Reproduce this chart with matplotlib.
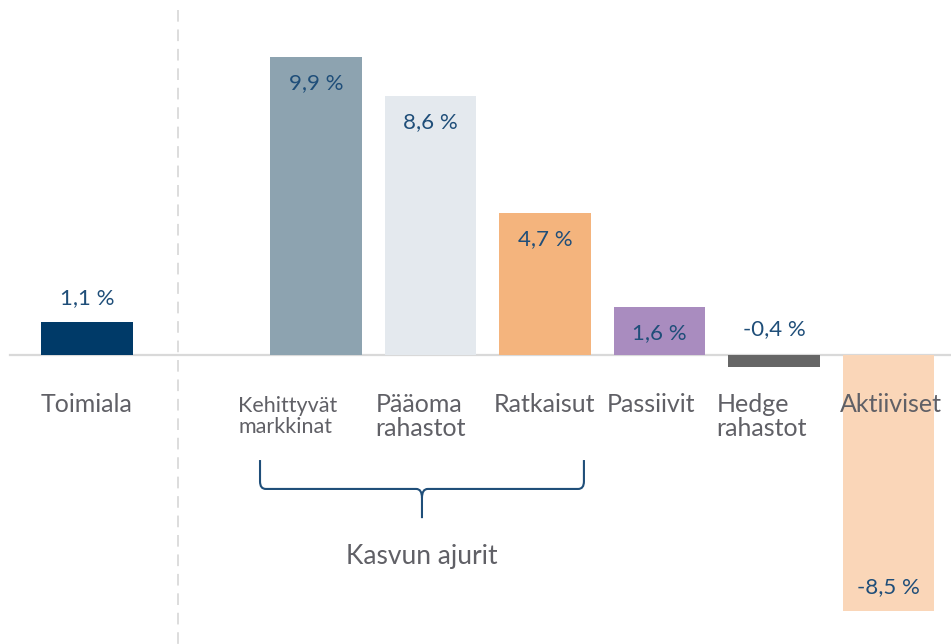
import matplotlib.pyplot as plt
from matplotlib.path import Path
from matplotlib.patches import PathPatch

plt.rcParams['font.family'] = ['Lato', 'DejaVu Sans']

categories = ['Toimiala', 'Kehittyvät\nmarkkinat', 'Pääoma\nrahastot', 'Ratkaisut',
              'Passiivit', 'Hedge\nrahastot', 'Aktiiviset']
values = [1.1, 9.9, 8.6, 4.7, 1.6, -0.4, -8.5]
value_labels = ['1,1 %', '9,9 %', '8,6 %', '4,7 %', '1,6 %', '-0,4 %', '-8,5 %']
positions = [0, 2, 3, 4, 5, 6, 7]
colors = ['#003A68', '#8DA3B0', '#E4E9EE', '#F4B47D', '#A98CBF', '#666666', '#FAD6B8']
label_inside = [False, True, True, True, True, False, True]
label_shift = [0, -28, -10, 0, -8, -12, 2]   # px shift of category text
group_label = 'Kasvun ajurit'

fig = plt.figure(figsize=(9.51, 6.44), dpi=100)
ax = fig.add_axes([0, 0, 1, 1])
ax.set_xlim(-0.76, 7.546)
ax.set_ylim(-9.60, 11.79)
ax.axis('off')

px_x = 1 / 114.5   # data units per pixel (x)
px_y = 1 / 30.1    # data units per pixel (y)

ax.bar(positions, values, width=0.80, color=colors, zorder=2)

# zero line and divider
ax.plot([-0.67, 7.546], [0, 0], color='#D9D9D9', lw=1.6, zorder=1)
ax.plot([0.795, 0.795], [11.45, -9.6], color='#DDDDDD', lw=1.4,
        linestyle=(0, (6, 4)), zorder=1)

navy = '#1F4E79'
grey = '#606066'
for p, v, lab, inside in zip(positions, values, value_labels, label_inside):
    if inside:
        y = v - 26 * px_y if v > 0 else v + 24 * px_y
    else:
        y = 26 * px_y if v < 0 else v + 24 * px_y
    ax.text(p, y, lab, ha='center', va='center', color=navy, fontsize=16, zorder=3)

for p, c, s in zip(positions, categories, label_shift):
    fs = 15.5 if c.startswith('Kehittyv') else 18
    yc = -61.5 if '\n' in c else -50
    ax.text(p + s * px_x, yc * px_y, c, ha='center', va='center', multialignment='left',
            color=grey, fontsize=fs, linespacing=1.1, zorder=3)

# curly bracket under the growth drivers
x0, x1 = 1.511, 4.34
xm = (x0 + x1) / 2
ytop, yh, ytip = -3.49, -4.45, -5.42
r = 0.05
verts = [(x0, ytop), (x0, yh + 0.25), (x0, yh), (x0 + r, yh),
         (xm - r, yh), (xm, yh), (xm, yh - 0.3),
         (xm, ytip),
         (xm, yh - 0.3), (xm, yh), (xm + r, yh),
         (x1 - r, yh), (x1, yh), (x1, yh + 0.25),
         (x1, ytop)]
codes = [Path.MOVETO, Path.LINETO, Path.CURVE3, Path.CURVE3,
         Path.LINETO, Path.CURVE3, Path.CURVE3,
         Path.LINETO,
         Path.MOVETO, Path.CURVE3, Path.CURVE3,
         Path.LINETO, Path.CURVE3, Path.CURVE3,
         Path.LINETO]
ax.add_patch(PathPatch(Path(verts, codes), fill=False, edgecolor=navy, lw=1.5))

ax.text(xm, -6.68, group_label, ha='center', va='center', color=grey, fontsize=19)

fig.savefig('out.png', dpi=100)
